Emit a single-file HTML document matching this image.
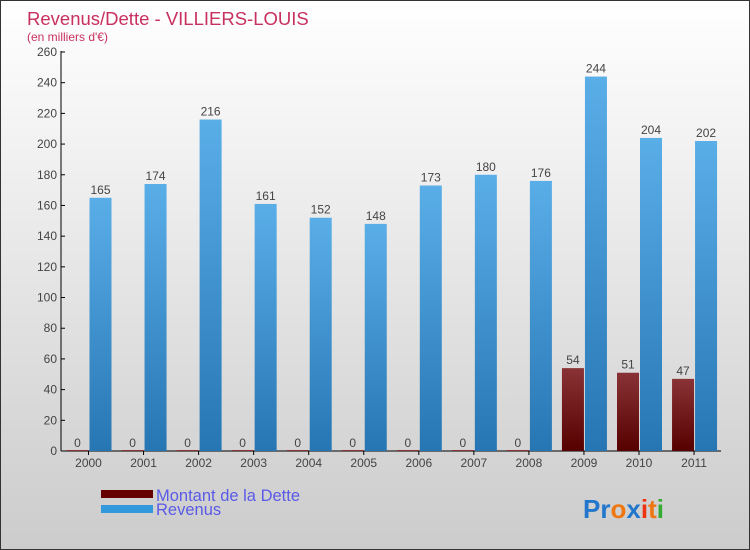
<!DOCTYPE html>
<html><head><meta charset="utf-8"><style>
body{margin:0}
#c{width:750px;height:550px;position:relative;box-sizing:border-box;border:1px solid #333;background:linear-gradient(#ffffff,#f0f0f0 30%,#d8d8d8 75%,#cccccc);font-family:"Liberation Sans",sans-serif;overflow:hidden}
</style></head><body>
<div id="c">
<svg width="750" height="550" id="s">
<defs>
<linearGradient id="gb" x1="0" y1="0" x2="0" y2="1"><stop offset="0" stop-color="#5aaee8"/><stop offset="1" stop-color="#2676b4"/></linearGradient>
<linearGradient id="gr" x1="0" y1="0" x2="0" y2="1"><stop offset="0" stop-color="#8a3336"/><stop offset="1" stop-color="#560000"/></linearGradient>
</defs>
<text x="26" y="24" font-size="18.5" fill="#c8305f">Revenus/Dette - VILLIERS-LOUIS</text>
<text x="26" y="40" font-size="12" fill="#c8305f">(en milliers d'€)</text>
<g id="plot"></g>
<rect x="100" y="489" width="52" height="8" fill="#660000"/>
<text x="155" y="500" font-size="16.5" fill="#5a5ae8">Montant de la Dette</text>
<rect x="100" y="504" width="52" height="8" fill="#3399dd"/>
<text x="155" y="514" font-size="16.5" fill="#5a5ae8">Revenus</text>
<text x="582" y="517" font-size="26" font-weight="bold"><tspan fill="#2277cc">Pr</tspan><tspan fill="#ee7711">o</tspan><tspan fill="#2277cc">x</tspan><tspan fill="#ee3311">i</tspan><tspan fill="#ee7711">t</tspan><tspan fill="#33aa33">i</tspan></text>
</svg>
</div>
<script>
const years=["2000","2001","2002","2003","2004","2005","2006","2007","2008","2009","2010","2011"];
const dette=[0,0,0,0,0,0,0,0,0,54,51,47];
const revenus=[165,174,216,161,152,148,173,180,176,244,204,202];
const ticks=[0,20,40,60,80,100,120,140,160,180,200,220,240,260];
const NS="http://www.w3.org/2000/svg";
const g=document.getElementById('plot');
const y=v=>450-v*399/260;
const xc=i=>87.5+55.05*i;
function mk(t,a){const e=document.createElementNS(NS,t);for(const k in a)e.setAttribute(k,a[k]);g.appendChild(e);return e;}
let ax=mk('line',{x1:60,y1:50,x2:60,y2:450,stroke:'#000'});


let bx=mk('line',{x1:60,y1:450,x2:720,y2:450,stroke:'#000'});


ticks.forEach(t=>{
 let l=mk('line',{x1:60,y1:y(t),x2:64,y2:y(t),stroke:'#000'});
 
 
 let tx=mk('text',{x:56,y:y(t)+4,'font-size':12,fill:'#444','text-anchor':'end'});tx.textContent=t;
 
 
});
years.forEach((yr,i)=>{
 const c=xc(i);
 let tk=mk('line',{x1:c,y1:450,x2:c,y2:454,stroke:'#000'});
 
 
 let lt=mk('text',{x:c,y:466,'font-size':12,fill:'#444','text-anchor':'middle'});lt.textContent=yr;
 
 
 const d=dette[i],r=revenus[i];
 let bd=mk('rect',{x:c-22,y:y(d)-(d?0:1),width:22,height:Math.max(450-y(d),1),fill:d?'url(#gr)':'#8a3336'});
 
 
 let vd=mk('text',{x:c-11,y:y(d)-4,'font-size':12,fill:'#444','text-anchor':'middle'});vd.textContent=d;
 
 
 let br=mk('rect',{x:c+1,y:y(r),width:22,height:450-y(r),fill:'url(#gb)'});
 
 
 let vr=mk('text',{x:c+12,y:y(r)-4,'font-size':12,fill:'#444','text-anchor':'middle'});vr.textContent=r;
 
 
});
</script>
</body></html>
